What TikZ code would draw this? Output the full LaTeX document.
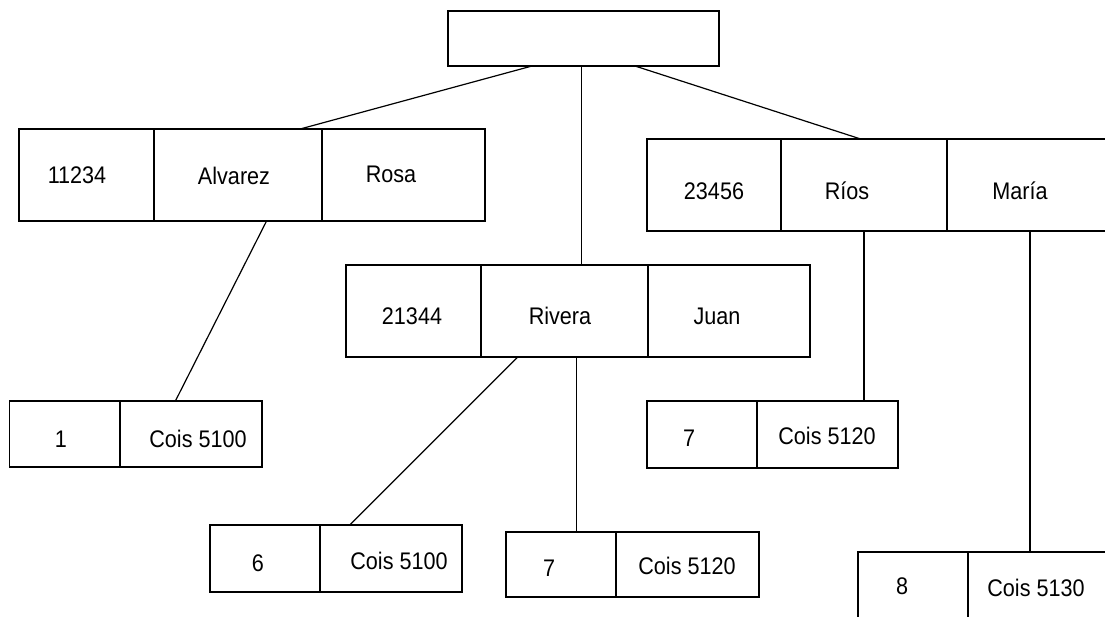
\documentclass[tikz,border=0pt]{standalone}
\usepackage{fontspec}
\setmainfont{Liberation Sans}[FakeStretch=0.9]
\usetikzlibrary{calc}
\begin{document}
\begin{tikzpicture}[x=1pt,y=-1pt,
  cell/.style={draw=black, line width=1.4pt, inner sep=0pt, outer sep=0pt},
  txt/.style={inner sep=0pt, font=\fontsize{24}{28}\selectfont},
  link/.style={draw=black, line width=1.2pt}]
\clip (0,0) rectangle (1105,616);
\fill[white] (0,0) rectangle (1105,616);

% root record (empty)
\node[cell, minimum width=271pt, minimum height=55pt] (root) at (583.5,38.5) {};

% student 11234
\node[cell, minimum width=135pt, minimum height=92pt] (a1) at (86.5,175) {};
\node[cell, minimum width=168pt, minimum height=92pt] (a2) at (238,175) {};
\node[cell, minimum width=163pt, minimum height=92pt] (a3) at (403.5,175) {};
\node[txt] (ta1) at (77,175) {11234};
\node[txt] (ta2) at (234,176) {Alvarez};
\node[txt] (ta3) at (391,174) {Rosa};

% student 23456
\node[cell, minimum width=134pt, minimum height=92pt] (r1) at (714,185) {};
\node[cell, minimum width=166pt, minimum height=92pt] (r2) at (864,185) {};
\node[cell, minimum width=166pt, minimum height=92pt] (r3) at (1030,185) {};
\node[txt] (tr1) at (714,191) {23456};
\node[txt] (tr2) at (847,191) {Ríos};
\node[txt] (tr3) at (1020,191) {María};

% student 21344
\node[cell, minimum width=135pt, minimum height=92pt] (v1) at (413.5,311) {};
\node[cell, minimum width=167pt, minimum height=92pt] (v2) at (564.5,311) {};
\node[cell, minimum width=162pt, minimum height=92pt] (v3) at (729,311) {};
\node[txt] (tv1) at (412,316) {21344};
\node[txt] (tv2) at (560,316) {Rivera};
\node[txt] (tv3) at (717,316) {Juan};

% course records
\node[cell, minimum width=110.5pt, minimum height=66pt] (b1) at (64.75,434) {};
\node[cell, minimum width=142pt, minimum height=66pt] (b2) at (191,434) {};
\node[txt] (tb1) at (61,439) {1};
\node[txt] (tb2) at (198,439) {Cois 5100};

\node[cell, minimum width=110pt, minimum height=67pt] (c1) at (265,558.5) {};
\node[cell, minimum width=142pt, minimum height=67pt] (c2) at (391,558.5) {};
\node[txt] (tc1) at (258,563) {6};
\node[txt] (tc2) at (399,561) {Cois 5100};

\node[cell, minimum width=110pt, minimum height=65pt] (d1) at (561,564.5) {};
\node[cell, minimum width=143pt, minimum height=65pt] (d2) at (687.5,564.5) {};
\node[txt] (td1) at (549,568) {7};
\node[txt] (td2) at (687,566) {Cois 5120};

\node[cell, minimum width=110pt, minimum height=67pt] (e1) at (702,434.5) {};
\node[cell, minimum width=141pt, minimum height=67pt] (e2) at (827.5,434.5) {};
\node[txt] (te1) at (689,438) {7};
\node[txt] (te2) at (827,436) {Cois 5120};

\node[cell, minimum width=110pt, minimum height=66pt] (f1) at (913,585) {};
\node[cell, minimum width=142pt, minimum height=66pt] (f2) at (1039,585) {};
\node[txt] (tf1) at (902,586) {8};
\node[txt] (tf2) at (1036,588) {Cois 5130};

% attachment points on the record borders
\coordinate (rootL) at ($(root.south west)!0.31!(root.south east)$);
\coordinate (rootM) at ($(root.south west)!0.494!(root.south east)$);
\coordinate (rootR) at ($(root.south west)!0.69!(root.south east)$);
\coordinate (a2in) at ($(a2.north west)!0.87!(a2.north east)$);
\coordinate (r2in) at ($(r2.north west)!0.48!(r2.north east)$);
\coordinate (a2out) at ($(a2.south west)!0.67!(a2.south east)$);
\coordinate (b2in) at ($(b2.north west)!0.39!(b2.north east)$);
\coordinate (v2outA) at ($(v2.south west)!0.22!(v2.south east)$);
\coordinate (c2in) at ($(c2.north west)!0.21!(c2.north east)$);
\coordinate (v2outB) at ($(v2.south west)!0.57!(v2.south east)$);

% connectors
\draw[link] (rootL) -- (a2in);
\draw[link] (rootM) -- (rootM |- v2.north);
\draw[link] (rootR) -- (r2in);
\draw[link] (a2out) -- (b2in);
\draw[link] (v2outA) -- (c2in);
\draw[link] (v2outB) -- (v2outB |- d1.north);
\draw[link] (r2.south) -- (r2.south |- e2.north);
\draw[link] (r3.south) -- (r3.south |- f2.north);
\end{tikzpicture}
\end{document}
